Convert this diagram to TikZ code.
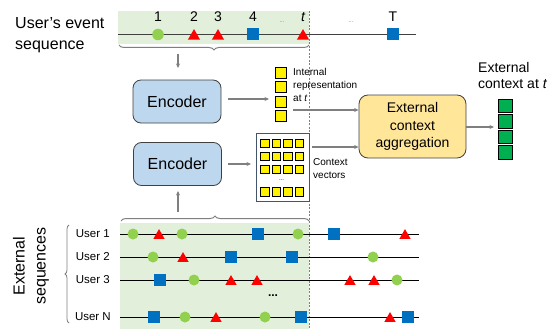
\documentclass[tikz,border=0pt]{standalone}
\usepackage{fontspec}
\setmainfont{Liberation Sans}
\usetikzlibrary{shapes.geometric,decorations.pathreplacing,arrows.meta}
\definecolor{bandgreen}{HTML}{E2EFDA}
\definecolor{circgreen}{HTML}{92D050}
\definecolor{sqblue}{HTML}{0070C0}
\definecolor{encblue}{HTML}{BDD7EE}
\definecolor{aggyellow}{HTML}{FFE699}
\definecolor{vecgreen}{HTML}{00B050}
\definecolor{darkline}{HTML}{404040}
\definecolor{arrgray}{HTML}{7F7F7F}
\definecolor{navy}{HTML}{44546A}
\tikzset{
  mcirc/.style={circle,fill=circgreen,minimum size=11pt,inner sep=0pt},
  mtri/.style={regular polygon,regular polygon sides=3,fill=red,minimum size=13pt,inner sep=0pt,yshift=-1.6pt},
  msq/.style={rectangle,fill=sqblue,minimum size=11.5pt,inner sep=0pt},
  encbox/.style={draw=darkline,line width=0.8pt,fill=encblue,rounded corners=8pt,minimum width=88pt,minimum height=43pt,font=\fontsize{16}{18}\selectfont},
  ysq/.style={draw=black,line width=0.6pt,fill=yellow,minimum size=11pt,inner sep=0pt},
  ysmall/.style={draw=black,line width=0.5pt,fill=yellow,minimum size=8.5pt,inner sep=0pt},
  gsq/.style={draw=black,line width=0.6pt,fill=vecgreen,minimum size=13.5pt,inner sep=0pt},
  garrow/.style={draw=arrgray,line width=1.1pt,-{Stealth[length=4.5pt,width=4pt]}},
  gbrace/.style={draw=arrgray,line width=1pt,decorate,decoration={brace,amplitude=5pt}},
  seqline/.style={draw=black,line width=1pt},
  ulabel/.style={anchor=east,inner sep=0pt,font=\fontsize{11.5}{13}\selectfont},
  numlabel/.style={inner sep=0pt,font=\fontsize{14}{16}\selectfont},
  smalltext/.style={anchor=north west,inner sep=0pt,align=left,font=\fontsize{10}{13}\selectfont},
  tinydots/.style={inner sep=0pt,text=arrgray,font=\fontsize{6}{7}\selectfont}
}
\begin{document}
\begin{tikzpicture}[x=1pt,y=-1pt]
\useasboundingbox (0,0) rectangle (554,329);
% bands
\fill[bandgreen] (118,11) rectangle (309,44);
\fill[bandgreen] (120,223) rectangle (309,329);
% dashed line
\draw[arrgray,line width=0.7pt,dash pattern=on 2pt off 1.5pt] (309,11) -- (309,329);
% top label
\node[align=left,anchor=west,inner sep=0pt,font=\fontsize{16}{21}\selectfont] (utitle) at (15,35) {User’s event\\sequence};
% top sequence
\draw[draw=darkline,line width=1.5pt] (118,34.5) -- (416,34.5);
\node[mcirc,minimum size=11.5pt] (tc1) at (158,34.5) {};
\node[mtri,minimum size=14pt] (tt2) at (194,34.5) {};
\node[mtri,minimum size=14pt] (tt3) at (218,34.5) {};
\node[msq,minimum size=12pt] (ts4) at (253,34.5) {};
\node[mtri,minimum size=14pt] (ttt) at (303,34.5) {};
\node[msq,minimum size=12pt] (tsT) at (393,34.5) {};
\node[numlabel] (l1) at (158,17) {1};
\node[numlabel] (l2) at (194,17) {2};
\node[numlabel] (l3) at (218,17) {3};
\node[numlabel] (l4) at (253,17) {4};
\node[numlabel] (lt) at (303,17) {\itshape t};
\node[numlabel] (lT) at (393,17) {T};
\node[tinydots] (d1) at (282,22) {...};
\node[tinydots] (d2) at (351,22) {...};
% top brace and arrow
\draw[gbrace] (309,45) -- (119,45);
\coordinate (tb) at (178,54);
\coordinate (tbe) at (178,68);
% encoders
\node[encbox] (enc1) at (177,101.5) {Encoder};
\node[encbox] (enc2) at (177.5,164) {Encoder};
\draw[garrow] (tb) -- (tbe);
% internal representation column
\node[ysq] (y1) at (281,73) {};
\node[ysq] (y2) at (281,87) {};
\node[ysq] (y3) at (281,101.5) {};
\node[ysq] (y4) at (281,116) {};
\coordinate (e1s) at (228,99);
\coordinate (e1e) at (269,99);
\draw[garrow] (e1s) -- (e1e);
\node[smalltext] (intxt) at (293,68) {Internal\\representation\\at \textit{t}};
% context vectors
\node[draw=navy,line width=0.9pt,minimum width=53pt,minimum height=68pt,inner sep=0pt] (ctx) at (282.5,167) {};
\foreach \yy [count=\r] in {143,156,169,191.5}{
  \foreach \xx [count=\c] in {264.5,276,287.5,299}{
    \node[ysmall] (cv\r\c) at (\xx,\yy) {};
  }
}
\node[tinydots,text=black] (cdots) at (281.5,180) {...};
\coordinate (e2s) at (228,164);
\coordinate (e2e) at (251,164);
\draw[garrow] (e2s) -- (e2e);
\node[smalltext] (ctxt) at (313,158) {Context\\vectors};
% aggregation
\node[draw=darkline,line width=0.8pt,fill=aggyellow,rounded corners=9pt,minimum width=107pt,minimum height=63pt,align=center,font=\fontsize{14}{17.5}\selectfont] (agg) at (412.5,126.5) {External\\context\\aggregation};
\coordinate (ia) at (293,110);
\coordinate (ca) at (312,147);
\draw[garrow] (ia) -- (agg.west |- ia);
\draw[garrow] (ca) -- (agg.west |- ca);
% external context
\node[gsq] (g1) at (505.5,106) {};
\node[gsq] (g2) at (505.5,121.5) {};
\node[gsq] (g3) at (505.5,137) {};
\node[gsq] (g4) at (505.5,152.5) {};
\coordinate (ao) at (494,127);
\draw[garrow] (agg.east |- ao) -- (ao);
\node[anchor=north west,align=left,inner sep=0pt,font=\fontsize{14}{16}\selectfont] (exttxt) at (478,62) {External\\context at \textit{t}};
% bottom brace and arrow
\draw[gbrace] (121,221) -- (309,221);
\coordinate (bb) at (178,212);
\coordinate (bbe) at (178,191);
\draw[garrow] (bb) -- (bbe);
% external sequences label and brace
\node[rotate=90,align=center,inner sep=0pt,font=\fontsize{16}{21}\selectfont] (extseq) at (31,266) {External\\sequences};
\draw[gbrace,line width=0.8pt,decoration={brace,amplitude=4pt}] (69,323) -- (69,225);
% user lines
\draw[seqline] (120,234) -- (419,234);
\draw[seqline] (120,257) -- (419,257);
\draw[seqline] (120,280) -- (419,280);
\draw[seqline] (120,317) -- (419,317);
\node[ulabel] (u1) at (110,234) {User 1};
\node[ulabel] (u2) at (110,257) {User 2};
\node[ulabel] (u3) at (110,280) {User 3};
\node[ulabel] (uN) at (111,317) {User N};
\node[inner sep=0pt,font=\bfseries\fontsize{12}{12}\selectfont] (udots) at (273,296) {...};
% user 1
\foreach \xx [count=\i] in {133,182,298} \node[mcirc] (u1c\i) at (\xx,234) {};
\foreach \xx [count=\i] in {159,405} \node[mtri] (u1t\i) at (\xx,234) {};
\foreach \xx [count=\i] in {258,334} \node[msq] (u1s\i) at (\xx,234) {};
% user 2
\foreach \xx [count=\i] in {153,373} \node[mcirc] (u2c\i) at (\xx,257) {};
\foreach \xx [count=\i] in {183} \node[mtri] (u2t\i) at (\xx,257) {};
\foreach \xx [count=\i] in {231,292} \node[msq] (u2s\i) at (\xx,257) {};
% user 3
\foreach \xx [count=\i] in {194,397} \node[mcirc] (u3c\i) at (\xx,280) {};
\foreach \xx [count=\i] in {231,257,350,374} \node[mtri] (u3t\i) at (\xx,280) {};
\foreach \xx [count=\i] in {160} \node[msq] (u3s\i) at (\xx,280) {};
% user N
\foreach \xx [count=\i] in {185,265} \node[mcirc] (uNc\i) at (\xx,317) {};
\foreach \xx [count=\i] in {216,390} \node[mtri] (uNt\i) at (\xx,317) {};
\foreach \xx [count=\i] in {154,301,408} \node[msq] (uNs\i) at (\xx,317) {};
\end{tikzpicture}
\end{document}
